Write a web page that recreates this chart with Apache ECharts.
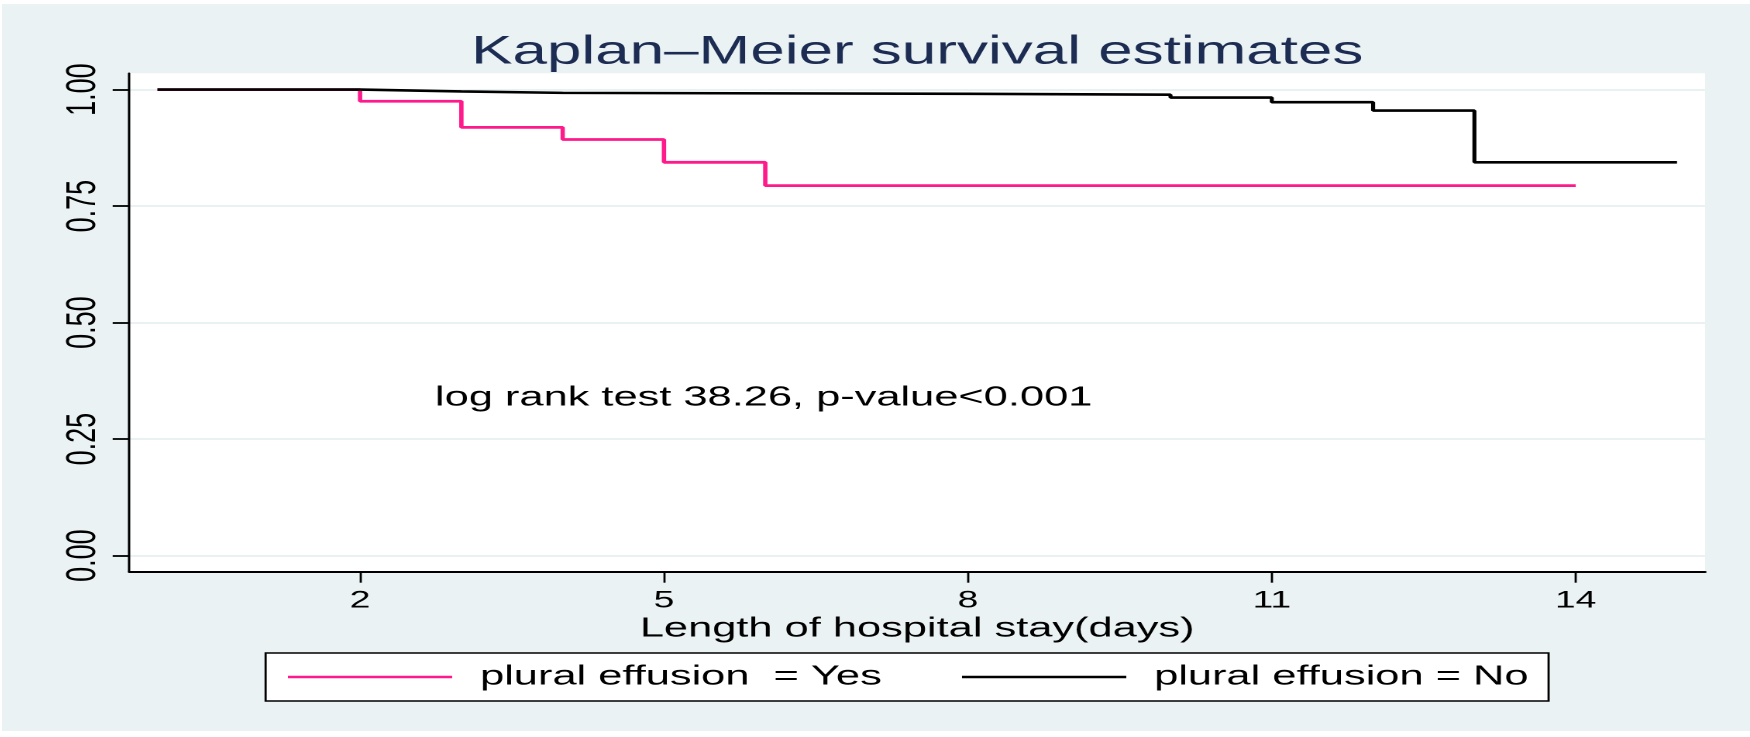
<!DOCTYPE html>
<html><head><meta charset="utf-8">
<script src="https://cdn.jsdelivr.net/npm/echarts@6/dist/echarts.min.js"></script>
<style>
html,body{margin:0;padding:0;background:#fff;width:1750px;height:737px;overflow:hidden;}
#wrap{position:absolute;left:2px;top:4px;width:1748px;height:727px;overflow:hidden;}
#chart{width:1128px;height:727px;transform:scaleX(1.549645);transform-origin:0 0;}
</style></head><body><div id="wrap"><div id="chart"></div></div>
<script>
// ---- data ----
const titleText = 'Kaplan\u2013Meier survival estimates';
const xAxisTitle = 'Length of hospital stay(days)';
const annotationText = 'log rank test 38.26, p-value<0.001';
const seriesNames = ['plural effusion  = Yes', 'plural effusion = No'];
const xTicks = [2, 5, 8, 11, 14];
const yTicks = [0, 0.25, 0.5, 0.75, 1];
const timesYes = [0, 2, 3, 4, 5, 6, 14];
const survYes = [1.000, 0.975, 0.919, 0.893, 0.844, 0.794, 0.794];
const timesNo = [0, 2, 3, 4, 8, 10, 11, 12, 13, 15];
const survNo = [1.000, 0.996, 0.993, 0.991, 0.989, 0.983, 0.973, 0.955, 0.844, 0.844];

// ---- chart ----
const FONT = "'Liberation Sans', Arial, sans-serif";
const chart = echarts.init(document.getElementById('chart'), null, {renderer: 'canvas', devicePixelRatio: 2});
const pink = '#ff1a8c';
chart.setOption({
  animation: false,
  backgroundColor: '#eaf2f3',
  title: [
    {text: titleText, left: 590.6, top: 28.5, padding: 0, textAlign: 'center',
     textStyle: {fontSize: 40, fontWeight: 'normal', color: '#1c2c52', fontFamily: FONT}},
    {text: annotationText, left: 279.4, top: 380, padding: 0,
     textStyle: {fontSize: 28, fontWeight: 'normal', color: '#000', fontFamily: FONT}}
  ],
  grid: {left: 82.2, right: 29, top: 69.3, bottom: 159.3, show: true, backgroundColor: '#fff', borderWidth: 0, containLabel: false},
  legend: {
    left: 170.1, top: 649, orient: 'horizontal', selectedMode: false,
    data: [{name: seriesNames[0], icon: 'rect'}, {name: seriesNames[1], icon: 'rect'}],
    itemWidth: 106, itemHeight: 2.4, itemGap: 51.8,
    padding: [10, 13, 10, 14.4],
    backgroundColor: '#fff', borderColor: '#000', borderWidth: 1.4, borderRadius: 0,
    formatter: n => '{t|' + n + '}',
    textStyle: {color: '#000', fontSize: 28, fontFamily: FONT,
      rich: {t: {fontSize: 28, fontFamily: FONT, color: '#000', padding: [0, 0, 0, 13], lineHeight: 30}}}
  },
  xAxis: {
    type: 'value', min: -0.277, max: 15.277,
    name: xAxisTitle, nameLocation: 'middle', nameGap: 43, nameMoveOverlap: false,
    nameTextStyle: {fontSize: 28, color: '#000', fontFamily: FONT},
    axisLine: {show: true, onZero: false, lineStyle: {color: '#000', width: 2}},
    axisTick: {show: true, customValues: xTicks, length: 11, lineStyle: {color: '#000', width: 1.4}},
    axisLabel: {customValues: xTicks, margin: 17, fontSize: 24, color: '#000', fontFamily: FONT},
    splitLine: {show: false}
  },
  yAxis: {
    type: 'value', min: -0.0345, max: 1.035,
    axisLine: {show: true, onZero: false, lineStyle: {color: '#000', width: 1.5}},
    axisTick: {show: true, customValues: yTicks, length: 10.8, lineStyle: {color: '#000', width: 1.8}},
    axisLabel: {customValues: yTicks, rotate: 90, margin: 16, fontSize: 27, color: '#000',
      fontFamily: "'Liberation Sans Narrow', 'Liberation Sans', Arial, sans-serif",
      formatter: v => Number(v).toFixed(2)},
    splitLine: {show: true, lineStyle: {color: '#e4edf0', width: 1.6}}
  },
  series: [
    {name: seriesNames[0], type: 'line', step: 'end', showSymbol: false, symbol: 'none',
     data: timesYes.map((t, i) => [t, survYes[i]]),
     itemStyle: {color: pink}, lineStyle: {color: pink, width: 2.8}, z: 2},
    {name: seriesNames[1], type: 'line', step: 'end', showSymbol: false, symbol: 'none',
     data: timesNo.map((t, i) => [t, survNo[i]]),
     itemStyle: {color: '#000'}, lineStyle: {color: '#000', width: 2.6}, z: 3}
  ]
});
</script></body></html>
